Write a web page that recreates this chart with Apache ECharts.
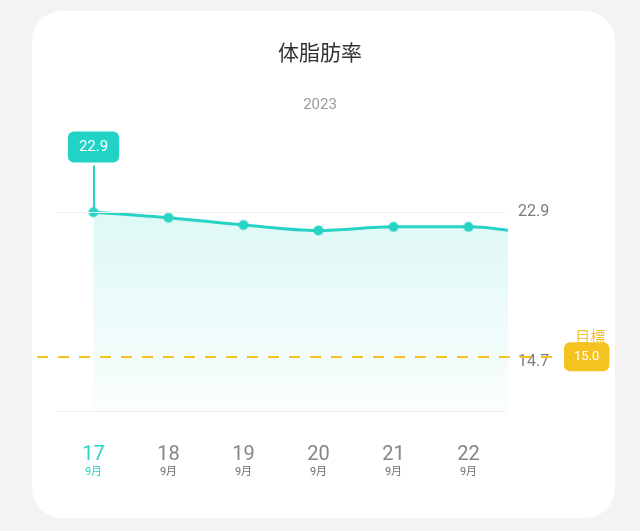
<!DOCTYPE html>
<html>
<head>
<meta charset="utf-8">
<script src="https://cdn.jsdelivr.net/npm/echarts@6.0.0/dist/echarts.min.js"></script>
<style>
  html, body { margin: 0; padding: 0; background: #f2f3f2; }
  #card { position: absolute; left: 32px; top: 11px; width: 583px; height: 507px; background: #ffffff; border-radius: 30px; }
  #chart { position: absolute; left: 0; top: 0; width: 640px; height: 531px; }
</style>
</head>
<body>
<div id="card"></div>
<div id="chart"></div>
<script>
// ---- data ----
const titleText = '体脂肪率';
const yearText = '2023';
const days = ['17', '18', '19', '20', '21', '22', '23'];
const monthLabel = '9月';
const fatValues = [22.9, 22.6, 22.2, 21.9, 22.1, 22.1, 21.6];
const yTickLabels = [14.7, 22.9];
const targetValue = 15.0;
const targetLabel = '目標';
const latestValue = 22.9;
const pinTopValue = 25.45;
const axisMin = 12;
const axisMax = 26;

const teal = '#27d3c4';
const gold = '#f5c320';
const font = "Roboto, 'Noto Sans CJK JP', 'Noto Sans CJK SC', sans-serif";

const chart = echarts.init(document.getElementById('chart'), null, { renderer: 'canvas' });

const option = {
  backgroundColor: 'transparent',
  animation: false,
  title: [
    { text: titleText, left: 'center', top: 39, textStyle: { fontSize: 21, fontWeight: 'normal', color: '#333333', fontFamily: font } },
    { text: yearText, left: 'center', top: 93, textStyle: { fontSize: 15, fontWeight: 'normal', color: '#9a9a9a', fontFamily: font } }
  ],
  grid: { left: 56, right: 134, top: 155.5, bottom: 119.5, containLabel: false },
  xAxis: {
    type: 'category',
    data: days,
    boundaryGap: true,
    min: 0,
    max: 5,
    axisLine: { show: true, onZero: false, lineStyle: { color: '#efefef', width: 1 } },
    axisTick: { show: false },
    splitLine: { show: false },
    axisLabel: {
      margin: 32,
      interval: 0,
      fontFamily: font,
      formatter: function (v, i) {
        return i === 0 ? '{da|' + v + '}\n{ma|' + monthLabel + '}' : '{d|' + v + '}\n{m|' + monthLabel + '}';
      },
      rich: {
        d: { fontSize: 20, color: '#858585', lineHeight: 22, fontFamily: font },
        m: { fontSize: 11, color: '#707070', lineHeight: 13, fontFamily: font },
        da: { fontSize: 20, color: teal, lineHeight: 22, fontFamily: font },
        ma: { fontSize: 11, color: teal, lineHeight: 13, fontFamily: font }
      }
    }
  },
  yAxis: {
    type: 'value',
    position: 'right',
    min: axisMin,
    max: axisMax,
    axisLine: { show: false },
    axisTick: { show: false },
    splitLine: { show: false },
    axisLabel: {
      customValues: yTickLabels,
      margin: 12,
      fontSize: 16,
      color: '#7b7b86',
      fontFamily: font,
      formatter: function (v) { return v.toFixed(1); }
    }
  },
  series: [
    {
      type: 'line',
      data: fatValues,
      smooth: 0.35,
      clip: true,
      symbol: 'circle',
      symbolSize: 9,
      showSymbol: true,
      lineStyle: { color: teal, width: 3 },
      itemStyle: { color: teal, borderColor: 'rgba(39,211,196,0.45)', borderWidth: 2 },
      areaStyle: {
        color: new echarts.graphic.LinearGradient(0, 0, 0, 1, [
          { offset: 0, color: 'rgba(39,211,196,0.22)' },
          { offset: 1, color: 'rgba(39,211,196,0.03)' }
        ])
      },
      markLine: {
        silent: true,
        symbol: ['none', 'none'],
        animation: false,
        data: [
          {
            yAxis: latestValue,
            lineStyle: { color: '#efefef', width: 1, type: 'solid' },
            label: { show: false }
          },
          [
            { xAxis: 0, yAxis: latestValue },
            {
              xAxis: 0, yAxis: pinTopValue,
              lineStyle: { color: teal, width: 2, type: 'solid' },
              label: {
                show: true,
                position: 'end',
                distance: 3,
                formatter: String(latestValue.toFixed(1)),
                backgroundColor: '#22d3c5',
                borderRadius: 6,
                padding: [8, 11, 8, 11],
                color: '#ffffff',
                fontSize: 15,
                fontFamily: font
              }
            }
          ],
          [
            { x: 37, yAxis: targetValue },
            {
              x: 559, yAxis: targetValue,
              lineStyle: { color: gold, width: 2, type: [11, 10] },
              label: {
                show: true,
                position: 'end',
                distance: 5,
                formatter: '{t|' + targetLabel + '}\n{v|' + targetValue.toFixed(1) + '}',
                padding: [0, 0, 22, 0],
                rich: {
                  t: { fontSize: 15, color: '#f0c23a', lineHeight: 22, align: 'right', padding: [0, 4, 0, 0], fontFamily: font },
                  v: { fontSize: 13, color: '#ffffff', backgroundColor: gold, borderRadius: 6, padding: [8, 10, 8, 10], lineHeight: 14, fontFamily: font }
                }
              }
            }
          ]
        ]
      }
    }
  ]
};

chart.setOption(option);
</script>
</body>
</html>
